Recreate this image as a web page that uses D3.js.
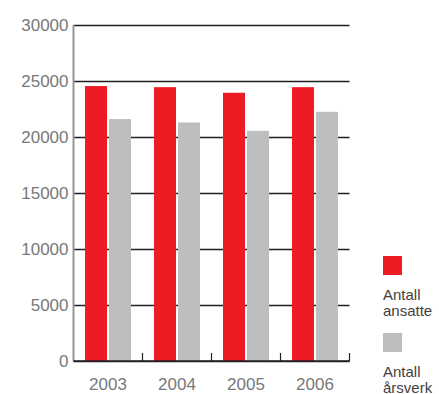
<!DOCTYPE html>
<html>
<head>
<meta charset="utf-8">
<script src="https://cdn.jsdelivr.net/npm/d3@7"></script>
<style>
  html, body { margin: 0; padding: 0; background: #fff; }
  svg { display: block; }
  text { font-family: "Liberation Sans", Arial, sans-serif; }
</style>
</head>
<body>
<svg id="chart" width="439" height="394"></svg>
<script>
// Employees and full-time equivalents per year
const years = ["2003", "2004", "2005", "2006"];
const antallAnsatte = [24550, 24450, 23950, 24450];
const antallArsverk = [21600, 21300, 20550, 22250];
const seriesNames = ["Antall ansatte", "Antall årsverk"];
const seriesColors = ["#ED1C24", "#BCBEC0"];
const yTicks = [0, 5000, 10000, 15000, 20000, 25000, 30000];

const svg = d3.select("#chart");

const margin = { left: 73.5, right: 349.5, top: 25, bottom: 361 };

const x0 = d3.scaleBand()
  .domain(years)
  .range([margin.left, margin.right])
  .paddingInner(0).paddingOuter(0);

const x1 = d3.scaleBand()
  .domain(seriesNames)
  .range([11.5, x0.bandwidth() - 11.5])
  .paddingInner(2 / 24).paddingOuter(0);

const y = d3.scaleLinear()
  .domain([0, 30000])
  .range([margin.bottom, margin.top]);

const color = d3.scaleOrdinal().domain(seriesNames).range(seriesColors);

// Horizontal gridlines with left-hand labels
const yAxis = d3.axisLeft(y)
  .tickValues(yTicks)
  .tickFormat(d3.format("d"))
  .tickSize(-(margin.right - margin.left))
  .tickPadding(5);

const gy = svg.append("g")
  .attr("transform", `translate(${margin.left},0)`)
  .call(yAxis);
gy.select(".domain").remove();
gy.selectAll(".tick line")
  .attr("stroke", "#231f20")
  .attr("stroke-width", 1.5);
gy.selectAll(".tick text")
  .attr("fill", "#77787b")
  .attr("font-size", 17)
  .attr("font-family", "'Liberation Sans', Arial, sans-serif");

// Bars
const rows = years.map((yr, i) => ({ year: yr, values: [antallAnsatte[i], antallArsverk[i]] }));

const groups = svg.append("g")
  .selectAll("g")
  .data(rows)
  .join("g")
  .attr("transform", d => `translate(${x0(d.year)},0)`);

groups.selectAll("rect")
  .data(d => d.values.map((v, j) => ({ key: seriesNames[j], value: v })))
  .join("rect")
  .attr("x", d => x1(d.key))
  .attr("y", d => y(d.value))
  .attr("width", x1.bandwidth())
  .attr("height", d => y(0) - y(d.value))
  .attr("fill", d => color(d.key));

// Left axis line (grey) and baseline with category separators
svg.append("line")
  .attr("x1", margin.left).attr("x2", margin.left)
  .attr("y1", margin.top).attr("y2", margin.bottom)
  .attr("stroke", "#939598").attr("stroke-width", 2);

const xAxis = d3.axisBottom(x0)
  .tickSize(0)
  .tickPadding(17);

const gx = svg.append("g")
  .attr("transform", `translate(0,${margin.bottom})`)
  .call(xAxis);
gx.select(".domain").attr("stroke", "#231f20").attr("stroke-width", 1.5)
  .attr("d", `M${margin.left},0H${margin.right}`);
gx.selectAll(".tick text")
  .attr("fill", "#77787b")
  .attr("font-size", 17)
  .attr("font-family", "'Liberation Sans', Arial, sans-serif");

// Separators between year groups
gx.selectAll(".sep")
  .data(years)
  .join("line")
  .attr("class", "sep")
  .attr("x1", d => x0(d) + x0.bandwidth())
  .attr("x2", d => x0(d) + x0.bandwidth())
  .attr("y1", 0).attr("y2", -8)
  .attr("stroke", "#231f20").attr("stroke-width", 1.2);

// Legend
const legend = svg.append("g").attr("transform", "translate(383,256)");
const legendItems = legend.selectAll("g")
  .data(seriesNames)
  .join("g")
  .attr("transform", (d, i) => `translate(0,${i * 77})`);

legendItems.append("rect")
  .attr("width", 19).attr("height", 19)
  .attr("fill", d => color(d));

legendItems.append("text")
  .attr("fill", "#414042")
  .attr("font-size", 15)
  .selectAll("tspan")
  .data(d => d.split(" "))
  .join("tspan")
  .attr("x", 0)
  .attr("y", (d, i) => 44 + i * 15.5)
  .text(d => d);
</script>
</body>
</html>
